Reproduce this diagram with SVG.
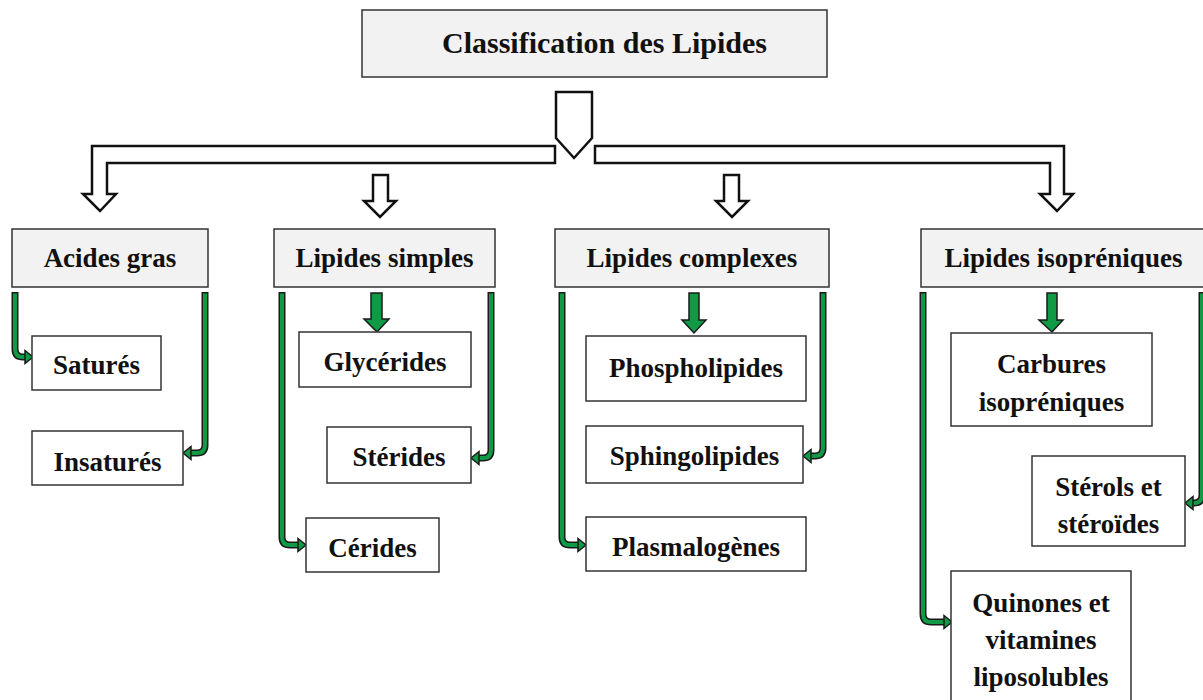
<svg xmlns="http://www.w3.org/2000/svg" width="1203" height="700" viewBox="0 0 1203 700">
<style>
text{font-family:"Liberation Serif","Times New Roman",serif;font-weight:bold;fill:#111;text-anchor:middle}
.t1{font-size:30px}
.t2{font-size:27px}
.b1{fill:#f2f2f2;stroke:#333;stroke-width:1.5}
.b3{fill:#fff;stroke:#333;stroke-width:1.5}
.hollow{fill:#fff;stroke:#111;stroke-width:2.5;stroke-linejoin:miter}
.sh-out{fill:none;stroke:#1a1a1a;stroke-width:7;stroke-linejoin:round}
.sh-in{fill:none;stroke:#109a45;stroke-width:4;stroke-linejoin:round}
.hd{fill:#109a45;stroke:#1a1a1a;stroke-width:1.5;stroke-linejoin:miter}
</style>
<rect width="1203" height="700" fill="#fff"/>

<g id="connectors">
  <polygon class="hollow" points="556,92 592,92 592,138 574,158 556,138"/>
  <polygon class="hollow" points="555,146 92,146 92,194 83,194 100,211 116,194 107,194 107,163 555,163"/>
  <polygon class="hollow" points="595,146 1064,146 1064,194 1073,194 1057,211 1040,194 1050,194 1050,163 595,163"/>
  <polygon class="hollow" points="373,175 388,175 388,201 396,201 380,217 364,201 373,201"/>
  <polygon class="hollow" points="724,175 739,175 739,201 748,201 732,217 716,201 724,201"/>

  <polygon class="hd" points="371,293 382,293 382,319 389,319 377,332 364,319 371,319"/>
  <polygon class="hd" points="689,293 699,293 699,320 706,320 694,333 682,320 689,320"/>
  <polygon class="hd" points="1047,293 1057,293 1057,320 1063,320 1052,332 1039,320 1047,320"/>

  <path class="sh-out" d="M15,292 V349 Q15,357 23,357 H26"/>
  <path class="sh-in" d="M15,293.5 V349 Q15,357 23,357 H27"/>
  <polygon class="hd" points="25,350.5 33,357 25,363.5"/>

  <path class="sh-out" d="M205,292 V445 Q205,453 197,453 H191"/>
  <path class="sh-in" d="M205,293.5 V445 Q205,453 197,453 H190"/>
  <polygon class="hd" points="191,446.5 183,453 191,459.5"/>

  <path class="sh-out" d="M282,292 V537 Q282,545 290,545 H299"/>
  <path class="sh-in" d="M282,293.5 V537 Q282,545 290,545 H300"/>
  <polygon class="hd" points="298,538.5 306,545 298,551.5"/>

  <path class="sh-out" d="M491,292 V450 Q491,458 483,458 H479"/>
  <path class="sh-in" d="M491,293.5 V450 Q491,458 483,458 H478"/>
  <polygon class="hd" points="479,451.5 471,458 479,464.5"/>

  <path class="sh-out" d="M562,292 V537 Q562,545 570,545 H579"/>
  <path class="sh-in" d="M562,293.5 V537 Q562,545 570,545 H580"/>
  <polygon class="hd" points="578,538.5 586,545 578,551.5"/>

  <path class="sh-out" d="M823,292 V448 Q823,456 815,456 H811"/>
  <path class="sh-in" d="M823,293.5 V448 Q823,456 815,456 H810"/>
  <polygon class="hd" points="811,449.5 803,456 811,462.5"/>

  <path class="sh-out" d="M923,292 V614 Q923,622 931,622 H945"/>
  <path class="sh-in" d="M923,293.5 V614 Q923,622 931,622 H946"/>
  <polygon class="hd" points="944,615.5 952,622 944,628.5"/>

  <path class="sh-out" d="M1202,292 V495 Q1202,503 1194,503 H1193"/>
  <path class="sh-in" d="M1202,293.5 V495 Q1202,503 1194,503 H1192"/>
  <polygon class="hd" points="1193,496.5 1185,503 1193,509.5"/>
</g>

<g id="n-root"><rect class="b1" x="362" y="10" width="465" height="67"/><text class="t1" x="604.5" y="53">Classification des Lipides</text></g>

<g id="n-acides"><rect class="b1" x="12" y="229" width="196" height="58"/><text class="t2" x="110" y="267">Acides gras</text></g>
<g id="n-simples"><rect class="b1" x="274" y="229" width="221" height="58"/><text class="t2" x="384.5" y="267">Lipides simples</text></g>
<g id="n-complexes"><rect class="b1" x="555" y="229" width="274" height="58"/><text class="t2" x="692" y="267">Lipides complexes</text></g>
<g id="n-iso"><rect class="b1" x="921" y="229" width="295" height="58"/><text class="t2" x="1063.5" y="267">Lipides isopréniques</text></g>

<g id="n-satures"><rect class="b3" x="32" y="336" width="129" height="54"/><text class="t2" x="96.5" y="374">Saturés</text></g>
<g id="n-insatures"><rect class="b3" x="32" y="431" width="151" height="54"/><text class="t2" x="107.5" y="471">Insaturés</text></g>

<g id="n-glycerides"><rect class="b3" x="299" y="332" width="172" height="55"/><text class="t2" x="385" y="371">Glycérides</text></g>
<g id="n-sterides"><rect class="b3" x="327" y="427" width="144" height="56"/><text class="t2" x="399" y="466">Stérides</text></g>
<g id="n-cerides"><rect class="b3" x="306" y="518" width="133" height="54"/><text class="t2" x="372.5" y="557">Cérides</text></g>

<g id="n-phospho"><rect class="b3" x="586" y="336" width="220" height="65"/><text class="t2" x="696" y="377">Phospholipides</text></g>
<g id="n-sphingo"><rect class="b3" x="586" y="426" width="217" height="57"/><text class="t2" x="694.5" y="465">Sphingolipides</text></g>
<g id="n-plasma"><rect class="b3" x="586" y="517" width="220" height="54"/><text class="t2" x="696" y="556">Plasmalogènes</text></g>

<g id="n-carbures"><rect class="b3" x="951" y="333" width="201" height="93"/><text class="t2" x="1051.5" y="373">Carbures</text><text class="t2" x="1051.5" y="411">isopréniques</text></g>
<g id="n-sterols"><rect class="b3" x="1032" y="456" width="153" height="90"/><text class="t2" x="1108.5" y="496">Stérols et</text><text class="t2" x="1108.5" y="533">stéroïdes</text></g>
<g id="n-quinones"><rect class="b3" x="951" y="571" width="180" height="135"/><text class="t2" x="1041" y="612">Quinones et</text><text class="t2" x="1041" y="649">vitamines</text><text class="t2" x="1041" y="686">liposolubles</text></g>
</svg>
